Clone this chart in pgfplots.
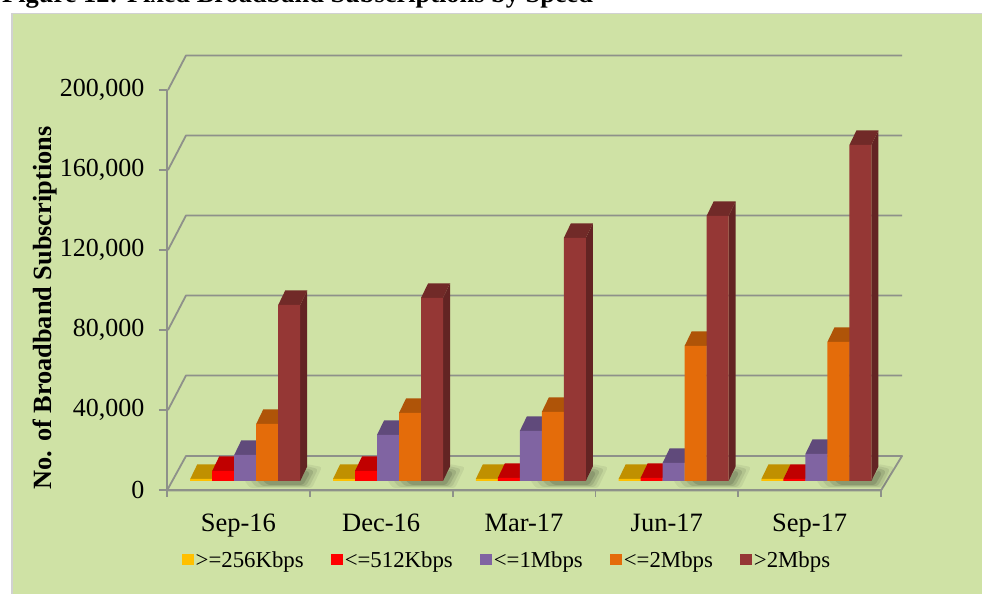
\documentclass[border=0pt]{standalone}
\usepackage{pgfplots}
\pgfplotsset{compat=1.18}
\usepackage{fontspec}
\setmainfont{Liberation Serif}
\usetikzlibrary{calc}
\definecolor{panel}{HTML}{CFE2A5}
\definecolor{gridc}{HTML}{8E918A}
\definecolor{yA}{HTML}{FFC000}\definecolor{yB}{HTML}{C09000}
\definecolor{rA}{HTML}{FF0000}\definecolor{rB}{HTML}{C00000}
\definecolor{pA}{HTML}{8064A2}\definecolor{pB}{HTML}{604A7B}
\definecolor{oA}{HTML}{E46C0A}\definecolor{oB}{HTML}{AF5408}
\definecolor{mA}{HTML}{953735}\definecolor{mB}{HTML}{712A28}\definecolor{mC}{HTML}{632423}
% one box: side and top faces of a bar; #1 index, #2 shift (px), #3 value, #4 top colour, #5 side colour
\newcommand\boxfaces[5]{%
  \pgfmathsetmacro\xl{#1+(#2-11)/142.8}%
  \pgfmathsetmacro\xr{#1+(#2+11)/142.8}%
  \pgfmathsetmacro\xL{\xl+7/142.8}%
  \pgfmathsetmacro\xR{\xr+7/142.8}%
  \edef\yT{\the\numexpr#3+7250\relax}%
  \edef\tmp{\noexpand\addplot[forget plot,draw=none,fill=#5] coordinates {(\xr,0) (\xR,7250) (\xR,\yT) (\xr,#3)} -- cycle;
  \noexpand\addplot[forget plot,draw=none,fill=#4] coordinates {(\xl,#3) (\xL,\yT) (\xR,\yT) (\xr,#3)} -- cycle;}%
  \tmp}
\newcommand\series[9]{% shift, front, top, side, v0..v4
  \boxfaces{0}{#1}{#5}{#3}{#4}\boxfaces{1}{#1}{#6}{#3}{#4}\boxfaces{2}{#1}{#7}{#3}{#4}\boxfaces{3}{#1}{#8}{#3}{#4}\boxfaces{4}{#1}{#9}{#3}{#4}%
  \addplot[ybar,bar width=22pt,bar shift=#1pt,draw=none,fill=#2,
    legend image code/.code={\fill[#2] (0pt,-5.5pt) rectangle (11.5pt,5.5pt);}]
    coordinates {(0,#5) (1,#6) (2,#7) (3,#8) (4,#9)};}
% soft floor shadow to the lower right of a group of bars (#1 = right edge of the front faces)
\newcommand\shadow[1]{%
  \foreach \k/\o in {0/.06,1/.08,2/.10,3/.12}{%
    \fill[black,opacity=\o,rounded corners=2.5pt]
      (#1-56+6*\k,114) -- (#1,114) -- (#1+6,130-2*\k) -- (#1+22-4*\k,127-2*\k)
      -- (#1+12-3*\k,106+\k) -- (#1-50+6*\k,106+\k) -- cycle;}}
\begin{document}
\begin{tikzpicture}[x=1pt,y=1pt]
\useasboundingbox (0,0) rectangle (982,594);
\fill[white] (0,0) rectangle (982,594);
\fill[black!18] (11,0) rectangle (982,581);
\fill[panel] (13,0) rectangle (982,580);
\node[anchor=base west,inner sep=0pt,font=\fontsize{26.4}{26}\selectfont\bfseries] at (2,591) {Figure 12: Fixed Broadband Subscriptions by Speed};
% floor and walls
\draw[gridc,line width=1.8pt,line join=round] (167,103.5) -- (881,103.5) -- (902,138) -- (186,138) -- cycle;
\foreach \v in {40,80,120,160,200}{
  \pgfmathsetmacro\py{104+2*\v}
  \draw[gridc,line width=1.8pt,line join=round] (168,\py) -- (186,\py+34.5) -- (902,\py+34.5);
}
\begin{axis}[name=main,anchor=south west,at={(167pt,104pt)},scale only axis,width=714pt,height=400pt,
  xmin=-0.5,xmax=4.5,ymin=0,ymax=200000,clip=false,
  axis x line=bottom,axis y line=left,axis line style={gridc,line width=1.8pt,-},
  tick style={gridc,line width=1.8pt},
  xtick={0,1,2,3,4},xticklabels={Sep-16,Dec-16,Mar-17,Jun-17,Sep-17},major x tick style={draw=none},
  minor xtick={-0.5,0.5,1.5,2.5,3.5,4.5},
  minor tick length=7pt,
  ytick={0,40000,80000,120000,160000,200000},
  yticklabels={0,{40,000},{80,000},{120,000},{160,000},{200,000}},
  scaled y ticks=false,
  yticklabel style={font=\fontsize{26}{26}\selectfont,xshift=-11pt},
  xticklabel style={font=\fontsize{26.5}{26}\selectfont,yshift=-12pt},
  major tick length=8pt,
  ytick align=outside,xtick align=outside,
  tick pos=left,
  ylabel={No. of Broadband Subscriptions},
  ylabel style={font=\fontsize{26.3}{26}\selectfont\bfseries,at={(axis description cs:-0.171,0.455)},anchor=center},
]
\end{axis}
\shadow{300}\shadow{443}\shadow{586}\shadow{729}\shadow{872}
\begin{axis}[anchor=south west,at={(167pt,113pt)},scale only axis,width=714pt,height=400pt,
  xmin=-0.5,xmax=4.5,ymin=0,ymax=200000,clip=false,axis lines=none,
  legend columns=-1,
  legend style={at={(axis description cs:0.021,-0.1975)},anchor=west,draw=none,fill=none,inner sep=0pt,
    font=\fontsize{22.8}{23}\selectfont,
    /tikz/every even column/.append style={column sep=25.5pt}},
  legend cell align=left,
]
\series{-37.2}{yA}{yB}{yB}{1000}{1000}{1000}{1000}{1000}
\series{-15.2}{rA}{rB}{rB}{5000}{5000}{1500}{1500}{1000}
\series{6.8}{pA}{pB}{pB}{13000}{23000}{25000}{9000}{13500}
\series{28.8}{oA}{oB}{oB}{28500}{34000}{34500}{67500}{69500}
\series{50.8}{mA}{mB}{mC}{88000}{91500}{121500}{132500}{168000}
\legend{>=256Kbps,<=512Kbps,<=1Mbps,<=2Mbps,>2Mbps}
\end{axis}
\end{tikzpicture}
\end{document}
